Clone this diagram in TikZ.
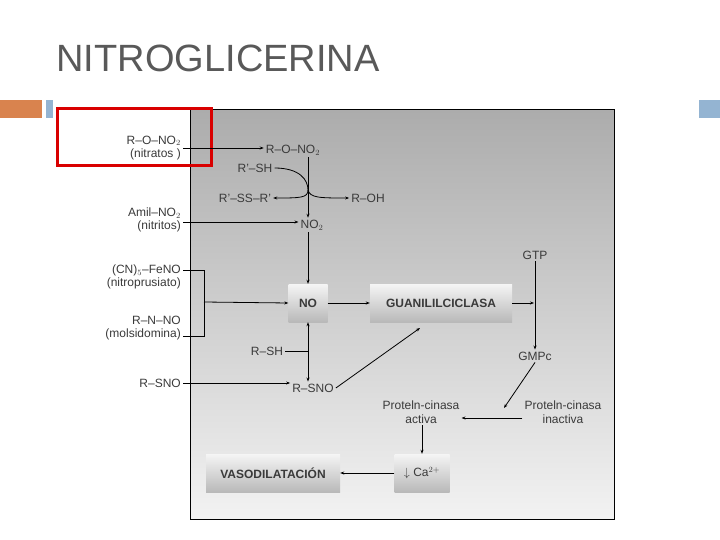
\documentclass[tikz,border=0pt]{standalone}
\usepackage{fontspec}
\setmainfont{Liberation Sans}
\usetikzlibrary{arrows.meta}
\definecolor{txt}{HTML}{3A3A3A}
\definecolor{orng}{HTML}{D9834E}
\definecolor{blu}{HTML}{94B4D2}
\begin{document}
\begin{tikzpicture}[x=1pt,y=-1pt,
  lab/.style={font=\fontsize{12}{13.5}\selectfont,text=txt,inner sep=2pt,align=center},
  llab/.style={lab,align=right,anchor=east},
  box/.style={draw=none,top color=gray!8,bottom color=gray!55,minimum height=38,font=\fontsize{12}{13}\selectfont\bfseries,text=txt},
  ar/.style={-{Stealth[length=4pt,width=3pt]},line width=0.8pt},
  ln/.style={line width=0.8pt}]
\useasboundingbox (0,0) rectangle (720,540);
\node[anchor=west,font=\fontsize{38}{40}\selectfont,text=black!65] (title) at (53,58) {NITROGLICERINA};
\fill[orng] (0,100) rectangle (42,118);
\fill[blu] (46,100) rectangle (53,118);
\fill[blu] (699,100) rectangle (720,118);
\shade[top color=gray!65,bottom color=gray!10,draw=black,line width=1pt] (190,110) rectangle (614,519);
\draw[red!85!black,line width=3pt] (57,109) rectangle (211,166);
% left labels
\node[llab] (l1) at (183,148) {R–O–NO$_2$\\(nitratos )};
\node[llab] (l2) at (183,220) {Amil–NO$_2$\\(nitritos)};
\node[llab] (l3) at (183,277) {(CN)$_5$–FeNO\\(nitroprusiato)};
\node[llab] (l4) at (183,328) {R–N–NO\\(molsidomina)};
\node[llab] (l5) at (183,383) {R–SNO};
% center nodes
\node[lab] (rono) at (293,150) {R–O–NO$_2$};
\node[lab] (rsh1) at (255,168) {R'–SH};
\node[lab] (rss) at (245,198) {R'–SS–R'};
\node[lab] (roh) at (368,198) {R–OH};
\node[lab] (no2) at (312,225) {NO$_2$};
\node[box,minimum width=39] (no) at (308,303) {NO};
\node[box,minimum width=142] (gc) at (441,303) {GUANILILCICLASA};
\node[lab] (gtp) at (535,255) {GTP};
\node[lab] (gmpc) at (535,356) {GMPc};
\node[lab] (rsh2) at (267,351) {R–SH};
\node[lab] (rsno) at (313,388) {R–SNO};
\node[lab] (pka) at (421,412) {Proteln-cinasa\\activa};
\node[lab] (pki) at (563,412) {Proteln-cinasa\\inactiva};
\node[box,minimum width=55,font=\fontsize{12}{13}\selectfont] (ca) at (422,473) {$\downarrow$ Ca$^{2+}$};
\node[box,minimum width=134] (vaso) at (273,473) {VASODILATACIÓN};
% connectors
\draw[ar] (l1.east |- 0,148) -- (rono.west |- 0,148);
\draw[ln] (rono.south -| 308,0) -- (308,198);
\draw[ar] (308,198) -- (no2.north -| 308,0);
\draw[ln] (rsh1.east) .. controls (300,168) and (308,180) .. (308,190);
\draw[ar] (308,190) .. controls (308,198) and (300,198) .. (rss.east);
\draw[ar] (308,190) .. controls (310,198) and (320,198) .. (roh.west);
\draw[ar] (l2.east |- 0,222) -- (no2.west |- 0,222);
\draw[ar] (no2.south -| 308,0) -- (no.north);
\draw[ln] (l3.east |- 0,270) -| (204,336) -- (l4.east |- 0,336);
\draw[ar] (204,302) -- (no.west);
\draw[ar] (no.east) -- (gc.west);
\draw[ar] (gc.east) -- (534,303);
\draw[ln] (gtp.south) -- (535,303);
\draw[ar] (535,303) -- (gmpc.north);
\draw[ln] (rsh2.east) -- (308,351);
\draw[ar] (308,351) -- (no.south);
\draw[ar] (308,351) -- (rsno.north -| 308,0);
\draw[ar] (l5.east) -- (rsno.west |- 0,383);
\draw[ar] (rsno.east) -- (420,328);
\draw[ar] (gmpc.south) -- (504,408);
\draw[ar] (pki.west |- 0,418) -- (pka.east |- 0,418);
\draw[ar] (pka.south -| 422,0) -- (ca.north);
\draw[ar] (ca.west) -- (vaso.east);
\end{tikzpicture}
\end{document}
